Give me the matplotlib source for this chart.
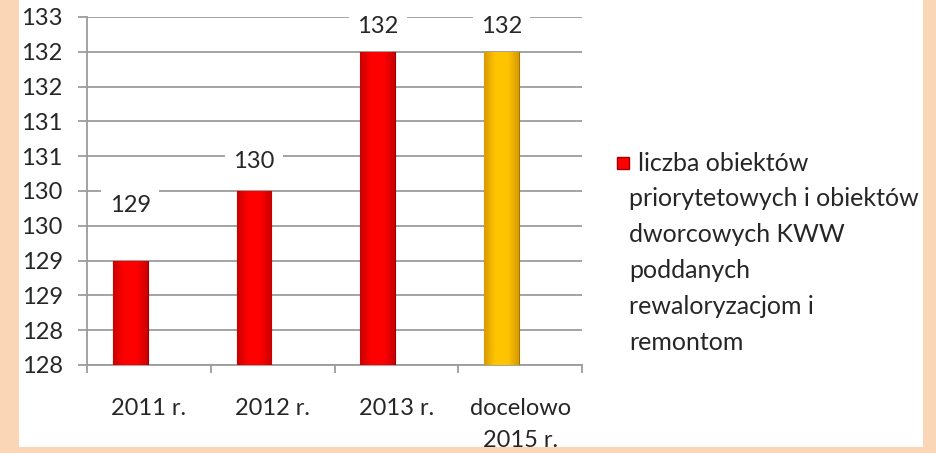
import numpy as np
import matplotlib
matplotlib.use("Agg")
import matplotlib.pyplot as plt
from matplotlib.patches import Rectangle
from matplotlib.colors import to_rgb
from matplotlib.ticker import FixedLocator, FuncFormatter

plt.rcParams['font.family'] = ['Lato', 'DejaVu Sans']

# data
categories = ['2011 r.', '2012 r.', '2013 r.', 'docelowo\n2015 r.']
values = [129, 130, 132, 132]
legend_lines = ['liczba obiektów', 'priorytetowych i obiektów', 'dworcowych KWW',
                'poddanych', 'rewaloryzacjom i', 'remontom']

# style
bar_colors = ['#FF0000', '#FF0000', '#FF0000', '#FFC400']
side_colors = ['#C80000', '#C80000', '#C80000', '#D89A00']
edge_colors = ['#A00000', '#A00000', '#A00000', '#A07800']
label_pad = [40, 21, 18, 18]   # points above the bar top
grid_col = '#9C9C9C'
text_col = '#262626'
peach = '#FAD5B6'
base = 127.5

W, H = 936, 453
fig = plt.figure(figsize=(W / 100, H / 100), dpi=100)
fig.patch.set_facecolor('white')

ax = fig.add_axes([87 / W, 1 - 365 / H, (582 - 87) / W, (365 - 17) / H])

x = np.arange(len(categories))
bars = ax.bar(x - 0.15, np.array(values) - base, bottom=base, width=0.28,
              color=bar_colors, edgecolor=edge_colors, linewidth=0.8, zorder=3)

# soft bevel: darker sides, bright middle
t = np.linspace(-1, 1, 64)
shade = np.clip(np.abs(t) * 1.6 - 0.6, 0, 1)[None, :, None]
for b, c, s in zip(bars, bar_colors, side_colors):
    grad = np.array(to_rgb(c)) * (1 - shade) + np.array(to_rgb(s)) * shade
    x0, y0 = b.get_x(), b.get_y()
    im = ax.imshow(grad, extent=(x0, x0 + b.get_width(), y0, y0 + b.get_height()),
                   aspect='auto', zorder=3.2, interpolation='bilinear')
    im.set_clip_path(b)
ax.set_xlim(-0.5, len(categories) - 0.5)
ax.set_ylim(base, 132.5)

for b, v, p in zip(bars, values, label_pad):
    ax.annotate(str(v), (b.get_x() + b.get_width() / 2, v),
                xytext=(0, p), textcoords='offset points',
                ha='center', va='center', fontsize=17, color=text_col,
                bbox=dict(boxstyle='square,pad=0.35', fc='white', ec='none'),
                zorder=4)

yt = np.arange(127.5, 132.51, 0.5)
ax.yaxis.set_major_locator(FixedLocator(yt))
# excel-like rounding of the half steps (128.5 -> 129)
ax.yaxis.set_major_formatter(FuncFormatter(lambda v, pos: str(int(np.floor(v + 0.5)))))
ax.grid(axis='y', color=grid_col, linewidth=1.3, zorder=0)
ax.set_axisbelow(True)

ax.xaxis.set_major_locator(FixedLocator(np.arange(-0.5, len(categories), 1.0)))
ax.xaxis.set_major_formatter(FuncFormatter(lambda v, pos: ''))
ax.set_xticks(x, minor=True)
ax.set_xticklabels(categories, minor=True, fontsize=17, color=text_col,
                   linespacing=1.62)
ax.tick_params(axis='x', which='minor', length=0, pad=24)
ax.tick_params(axis='x', which='major', length=5.5, width=1.3, color=grid_col,
               direction='out')
ax.tick_params(axis='y', length=6.5, width=1.3, color=grid_col, pad=11,
               labelsize=17, labelcolor=text_col)

for s in ['top', 'right']:
    ax.spines[s].set_visible(False)
for s in ['left', 'bottom']:
    ax.spines[s].set_color(grid_col)
    ax.spines[s].set_linewidth(1.3)

# legend drawn by hand (excel wraps the label under the marker)
fig.patches.append(Rectangle((617 / W, 1 - 169 / H), 12 / W, 12 / H,
                             transform=fig.transFigure, fc='#FF0000',
                             ec='#A00000', lw=1.0))
fig.text(638 / W, 1 - 152 / H, legend_lines[0], ha='left', va='top',
         fontsize=18, color=text_col)
fig.text(629 / W, 1 - 187 / H, '\n'.join(legend_lines[1:]), ha='left', va='top',
         fontsize=18, color=text_col, linespacing=1.68)

# peach frame
for (x0, y0, w, h) in [(0, 0, 19, H), (923, 0, W - 923, H), (0, 447, W, H - 447)]:
    fig.patches.append(Rectangle((x0 / W, 1 - (y0 + h) / H), w / W, h / H,
                                 transform=fig.transFigure, fc=peach, ec='none',
                                 zorder=5))

fig.savefig('out.png', dpi=100, facecolor=fig.get_facecolor())
